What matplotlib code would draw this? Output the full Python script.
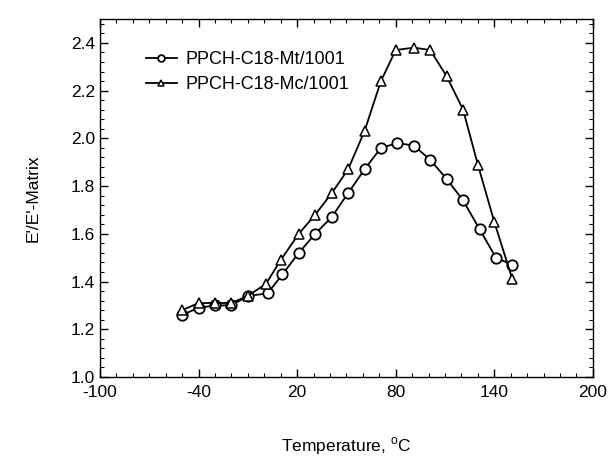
import matplotlib
matplotlib.use("Agg")
import matplotlib.pyplot as plt
from matplotlib.ticker import MultipleLocator

plt.rcParams['font.family'] = ['Liberation Sans', 'DejaVu Sans']
plt.rcParams['mathtext.fontset'] = 'custom'
plt.rcParams['mathtext.rm'] = 'Liberation Sans'
plt.rcParams['axes.unicode_minus'] = False

temp_mt = [-50, -40, -30, -20, -10, 2, 11, 21, 31, 41, 51, 61, 71, 81, 91, 101, 111, 121, 131, 141, 151]
ratio_mt = [1.26, 1.29, 1.30, 1.30, 1.34, 1.35, 1.43, 1.52, 1.60, 1.67, 1.77, 1.87, 1.96, 1.98, 1.97, 1.91, 1.83, 1.74, 1.62, 1.50, 1.47]

temp_mc = [-50, -40, -30, -20, -10, 1, 10, 21, 31, 41, 51, 61, 71, 80, 91, 101, 111, 121, 130, 140, 151]
ratio_mc = [1.28, 1.31, 1.31, 1.31, 1.34, 1.39, 1.49, 1.60, 1.68, 1.77, 1.87, 2.03, 2.24, 2.37, 2.38, 2.37, 2.26, 2.12, 1.89, 1.65, 1.41]

labels = ["PPCH-C18-Mt/1001", "PPCH-C18-Mc/1001"]

fig = plt.figure(figsize=(6.15, 4.59), dpi=100)
ax = fig.add_axes([0.1626, 0.1786, 0.8014, 0.78])

ax.plot(temp_mt, ratio_mt, '-', color='black', lw=1.3, marker='o', ms=7.5,
        mfc='white', mec='black', mew=1.3, label=labels[0])
ax.plot(temp_mc, ratio_mc, '-', color='black', lw=1.3, marker='^', ms=7.5,
        mfc='white', mec='black', mew=1.1, label=labels[1])

ax.set_xlim(-100, 200)
ax.set_ylim(1.0, 2.5)
ax.set_xticks([-100, -40, 20, 80, 140, 200])
ax.set_yticks([1.0, 1.2, 1.4, 1.6, 1.8, 2.0, 2.2, 2.4])
ax.set_yticklabels(['1.0', '1.2', '1.4', '1.6', '1.8', '2.0', '2.2', '2.4'])
ax.xaxis.set_minor_locator(MultipleLocator(10))
ax.yaxis.set_minor_locator(MultipleLocator(0.04))
ax.tick_params(which='both', direction='in', top=True, right=True, labelsize=12.5)
ax.tick_params(which='major', length=6, width=1)
ax.tick_params(which='minor', length=3, width=0.8)
ax.tick_params(axis='x', pad=6)
for s in ax.spines.values():
    s.set_linewidth(1.0)

ax.set_xlabel(r"Temperature, $^{\mathrm{o}}$C", fontsize=12.5, labelpad=25)
ax.set_ylabel("E'/E'-Matrix", fontsize=12.5, labelpad=22)

ax.legend(loc='upper left', bbox_to_anchor=(0.06, 0.955), frameon=False,
          fontsize=13, markerscale=0.65, handlelength=1.7, handletextpad=0.5,
          labelspacing=0.45)

fig.savefig("out.png", dpi=100)
